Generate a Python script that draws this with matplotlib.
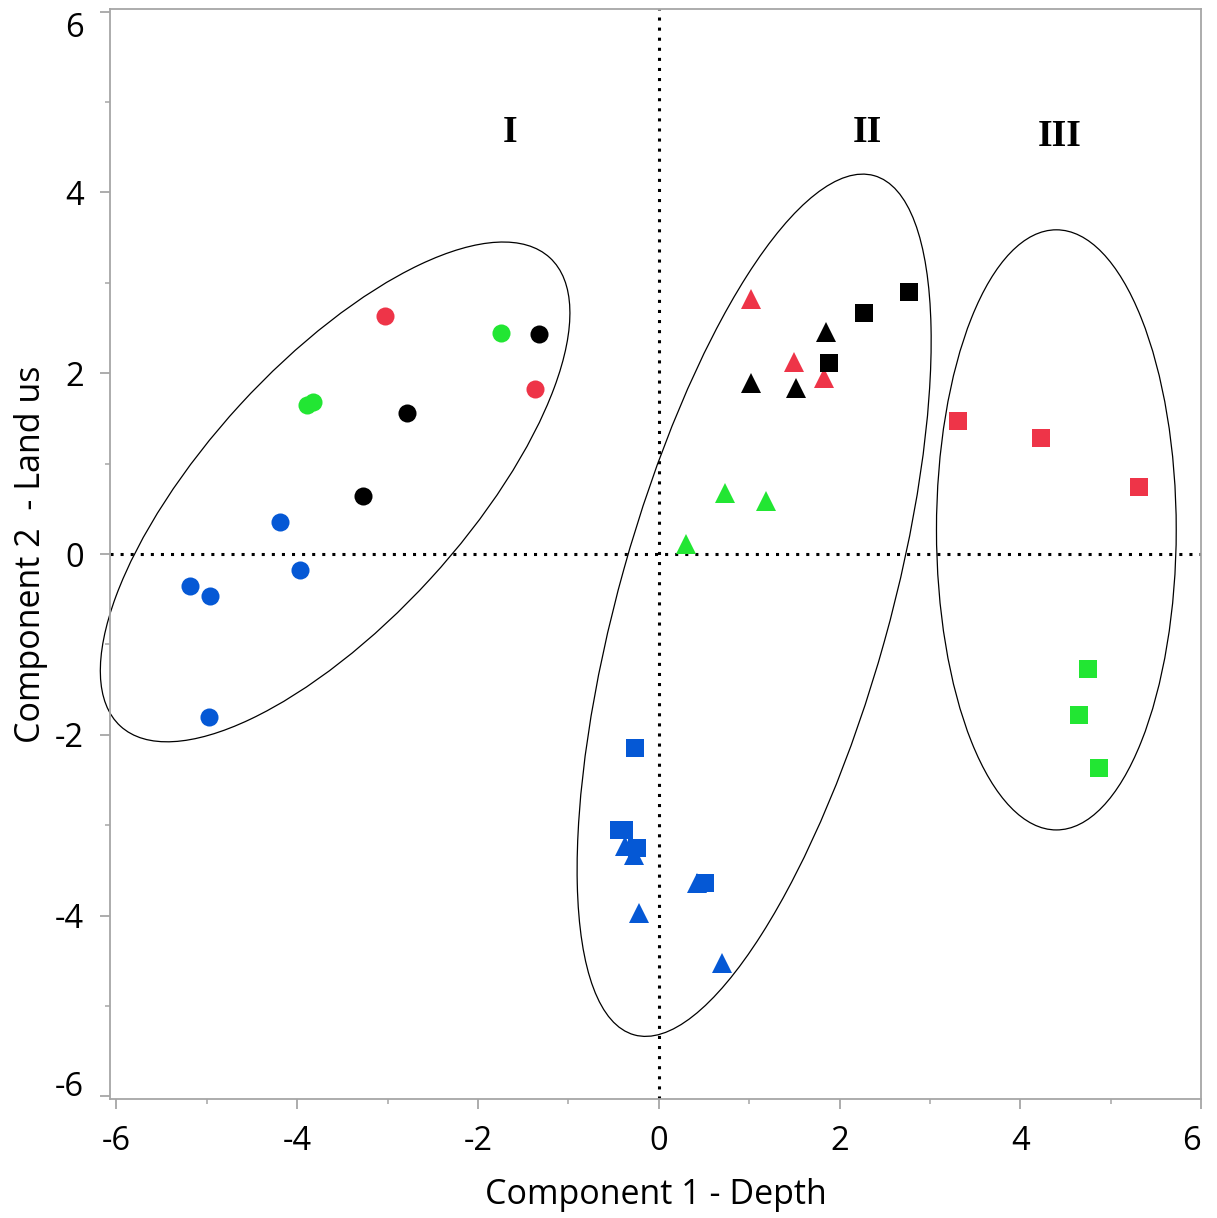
import matplotlib
matplotlib.use("Agg")
import matplotlib.pyplot as plt
from matplotlib.patches import Ellipse
from matplotlib.ticker import MultipleLocator

plt.rcParams['font.family'] = ['Open Sans', 'DejaVu Sans']
plt.rcParams['axes.unicode_minus'] = False

RED = '#EE3448'
GREEN = '#22E633'
BLUE = '#0558D5'
BLACK = '#000000'

# ---- data (Component 1, Component 2) ----
circle_red_x = [-3.03, -1.37]
circle_red_y = [2.63, 1.83]
circle_green_x = [-1.75, -3.89, -3.82]
circle_green_y = [2.45, 1.65, 1.68]
circle_black_x = [-1.33, -2.78, -3.27]
circle_black_y = [2.43, 1.555, 0.64]
circle_blue_x = [-4.19, -3.97, -5.19, -4.96, -4.98]
circle_blue_y = [0.35, -0.18, -0.35, -0.46, -1.80]

tri_red_x = [1.02, 1.50, 1.83]
tri_red_y = [2.825, 2.127, 1.943]
tri_black_x = [1.845, 1.02, 1.517]
tri_black_y = [2.459, 1.888, 1.833]
tri_green_x = [0.729, 1.19, 0.306]
tri_green_y = [0.68, 0.588, 0.11]
tri_blue_x = [-0.368, -0.276, 0.423, -0.221, 0.696]
tri_blue_y = [-3.226, -3.331, -3.644, -3.97, -4.523]

sq_black_x = [2.766, 2.27, 1.88]
sq_black_y = [2.90, 2.667, 2.115]
sq_red_x = [3.31, 4.225, 5.307]
sq_red_y = [1.474, 1.286, 0.745]
sq_green_x = [4.744, 4.644, 4.865]
sq_green_y = [-1.277, -1.786, -2.371]
sq_blue_x = [-0.262, -0.438, -0.383, -0.243, 0.516]
sq_blue_y = [-2.150, -3.057, -3.057, -3.255, -3.642]

# cluster ellipses: center x, center y, width, height, angle
ell_cx = [-3.58, 1.055, 4.398]
ell_cy = [0.687, -0.567, 0.267]
ell_w = [7.03, 9.87, 6.64]
ell_h = [2.853, 2.99, 2.652]
ell_angle = [47.5, 74.4, 90.0]

cluster_labels = ['I', 'II', 'III']
cluster_lx = [-1.65, 2.31, 4.44]
cluster_ly = [4.66, 4.66, 4.62]

x_ticks = [-6, -4, -2, 0, 2, 4, 6]
y_ticks = [-6, -4, -2, 0, 2, 4, 6]

fig = plt.figure(figsize=(12.17, 12.18), dpi=100)
ax = fig.add_axes([0.0904, 0.0977, 0.8966, 0.8949])

# reference lines
ax.axhline(0, color='black', lw=2.2, linestyle=(0, (1, 2.3)), dash_capstyle='butt', zorder=1)
ax.axvline(0, color='black', lw=2.2, linestyle=(0, (1, 2.3)), dash_capstyle='butt', zorder=1)

for cx, cy, w, h, a in zip(ell_cx, ell_cy, ell_w, ell_h, ell_angle):
    ax.add_patch(Ellipse((cx, cy), w, h, angle=a, fill=False, edgecolor='black',
                         lw=0.9, zorder=2, clip_on=False))

ms_o, ms_t, ms_s = 13, 14, 12.3
def pts(x, y, m, c, ms):
    ax.plot(x, y, linestyle='none', marker=m, color=c, markersize=ms, markeredgewidth=0, zorder=3)

pts(circle_red_x, circle_red_y, 'o', RED, ms_o)
pts(circle_green_x, circle_green_y, 'o', GREEN, ms_o)
pts(circle_black_x, circle_black_y, 'o', BLACK, ms_o)
pts(circle_blue_x, circle_blue_y, 'o', BLUE, ms_o)
pts(tri_red_x, tri_red_y, '^', RED, ms_t)
pts(tri_black_x, tri_black_y, '^', BLACK, ms_t)
pts(tri_green_x, tri_green_y, '^', GREEN, ms_t)
pts(tri_blue_x, tri_blue_y, '^', BLUE, ms_t)
pts(sq_black_x, sq_black_y, 's', BLACK, ms_s)
pts(sq_red_x, sq_red_y, 's', RED, ms_s)
pts(sq_green_x, sq_green_y, 's', GREEN, ms_s)
pts(sq_blue_x, sq_blue_y, 's', BLUE, ms_s)

for lab, lx, ly in zip(cluster_labels, cluster_lx, cluster_ly):
    ax.text(lx, ly, lab, family=['Liberation Serif', 'DejaVu Serif'], fontweight='bold',
            fontsize=27, ha='center', va='center', zorder=4)

ax.set_xticks(x_ticks)
ax.set_yticks(y_ticks)
ax.xaxis.set_minor_locator(MultipleLocator(1))
ax.yaxis.set_minor_locator(MultipleLocator(1))
ax.set_xlim(-6.07, 6.0)
ax.set_ylim(-6.03, 6.03)

spine_c = '#A6A6A6'
for s in ax.spines.values():
    s.set_color(spine_c)
    s.set_linewidth(1.3)
ax.tick_params(which='major', length=7, width=1.3, color=spine_c, labelsize=23.5)
ax.tick_params(axis='x', which='major', pad=12)
ax.tick_params(axis='y', which='major', pad=12)
ax.tick_params(which='minor', length=3.6, width=1.1, color=spine_c)

ax.set_xlabel('Component 1 - Depth', fontsize=24.5, labelpad=14)
ax.set_ylabel('Component 2  - Land us', fontsize=24.5, labelpad=5)

ylabels = ax.get_yticklabels()
ylabels[0].set_va('baseline')
ylabels[-1].set_va('top')
xlabels = ax.get_xticklabels()
xlabels[-1].set_ha('right')

fig.savefig('out.png', dpi=100)
